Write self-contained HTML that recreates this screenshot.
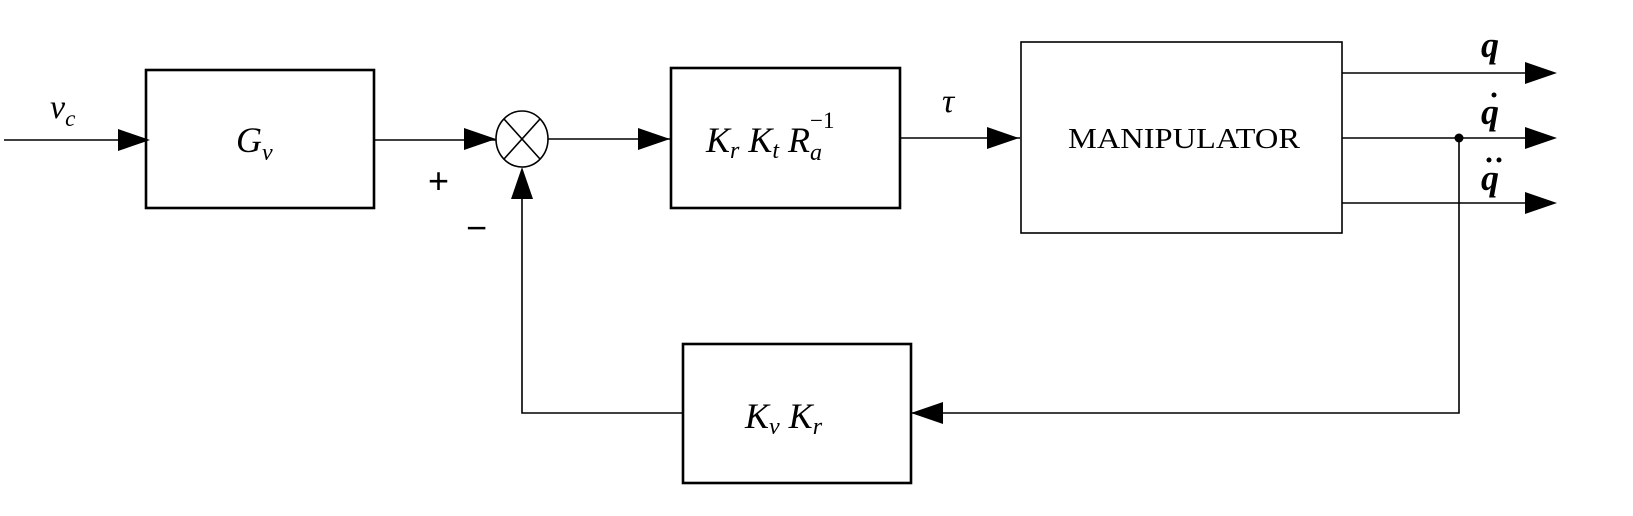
<!DOCTYPE html>
<html><head><meta charset="utf-8"><style>
html,body{margin:0;padding:0;background:#fff;width:1633px;height:516px;overflow:hidden}
svg{display:block}
.m{font-family:"Liberation Serif",serif;font-style:italic;fill:#000}
</style></head><body>
<svg width="1633" height="516" viewBox="0 0 1633 516">
<g stroke="#000" fill="none" stroke-width="1.6">
<line x1="4" y1="140" x2="146" y2="140"/>
<rect x="146" y="70" width="228" height="138" stroke-width="2.6"/>
<line x1="374" y1="140" x2="496" y2="140"/>
<ellipse cx="522" cy="139" rx="26" ry="28"/>
<line x1="504" y1="119" x2="540" y2="159"/><line x1="540" y1="119" x2="504" y2="159"/>
<line x1="548" y1="139" x2="670" y2="139"/>
<rect x="671" y="68" width="229" height="140" stroke-width="2.6"/>
<line x1="900" y1="138" x2="1020" y2="138"/>
<rect x="1021" y="42" width="321" height="191"/>
<line x1="1342" y1="73" x2="1530" y2="73"/>
<line x1="1342" y1="138" x2="1530" y2="138"/>
<line x1="1342" y1="203" x2="1530" y2="203"/>
<polyline points="1459,138 1459,413 912,413"/>
<rect x="683" y="344" width="228" height="139" stroke-width="2.6"/>
<polyline points="683,413 522,413 522,170"/>
</g>
<g fill="#000">
<polygon points="118,129 150,140 118,151"/>
<polygon points="464,128 496,139 464,150"/>
<polygon points="638,128 670,139 638,150"/>
<polygon points="987,127 1019,138 987,149"/>
<polygon points="1525,62 1557,73 1525,84"/>
<polygon points="1525,127 1557,138 1525,149"/>
<polygon points="1525,192 1557,203 1525,214"/>
<polygon points="943,402 911,413 943,424"/>
<polygon points="511,199 522,167 533,199"/>
<circle cx="1459" cy="138" r="4.5"/>
</g>
<text class="m" x="50" y="118" font-size="34">v<tspan font-size="23" dy="8">c</tspan></text>
<text class="m" x="236" y="152" font-size="36">G<tspan font-size="24" dy="8">v</tspan></text>
<text x="428" y="193" font-family="Liberation Sans,sans-serif" font-size="36">+</text>
<text x="466" y="240" font-family="Liberation Sans,sans-serif" font-size="36">−</text>
<text class="m" x="706" y="152" font-size="36">K<tspan font-size="24" dy="6">r</tspan><tspan dy="-6"> K</tspan><tspan font-size="24" dy="6">t</tspan><tspan dy="-6"> R</tspan><tspan font-size="24" dy="8">a</tspan><tspan font-style="normal" font-size="23" dx="-12" dy="-32">−1</tspan></text>
<text class="m" x="942" y="112" font-size="34">τ</text>
<text x="1068" y="148" font-family="Liberation Serif,serif" font-size="29" textLength="232" lengthAdjust="spacingAndGlyphs">MANIPULATOR</text>
<text class="m" x="1481" y="57" font-size="36" font-weight="bold">q</text>
<text class="m" x="1481" y="124" font-size="36" font-weight="bold">q</text>
<circle cx="1494" cy="95" r="2.5" fill="#000"/>
<text class="m" x="1481" y="190" font-size="36" font-weight="bold">q</text>
<circle cx="1489" cy="160" r="2.5" fill="#000"/><circle cx="1499" cy="160" r="2.5" fill="#000"/>
<text class="m" x="745" y="428" font-size="36">K<tspan font-size="24" dy="6">v</tspan><tspan dy="-6"> K</tspan><tspan font-size="24" dy="6">r</tspan></text>
</svg>
</body></html>
